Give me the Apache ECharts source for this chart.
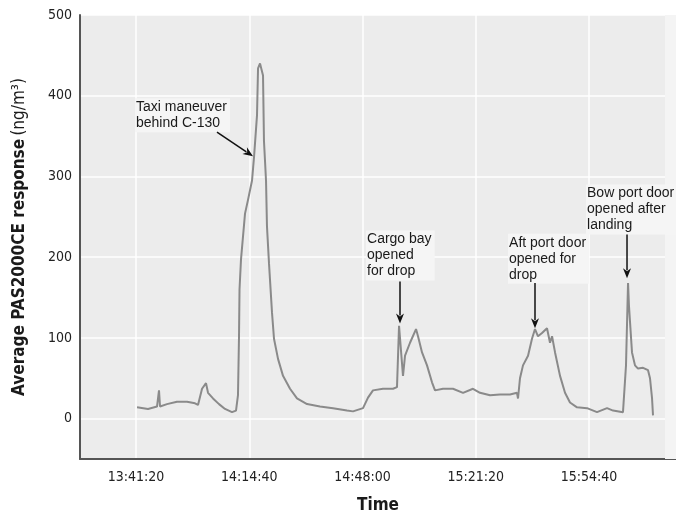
<!DOCTYPE html>
<html><head><meta charset="utf-8">
<script src="https://cdn.jsdelivr.net/npm/echarts@6/dist/echarts.min.js"></script>
<style>html,body{margin:0;padding:0;background:#fff}#c{width:676px;height:519px}</style>
</head><body><div id="c"></div>
<script>
// ---- data ----
const times = ['13:41:38','13:44:52','13:47:31','13:48:06','13:48:24','13:50:27','13:53:24','13:56:21','13:58:42','13:59:35',
'14:00:46','14:01:56','14:02:32','14:04:00','14:05:46','14:07:32','14:09:35','14:10:46','14:11:21','14:11:39',
'14:11:48','14:12:14','14:13:25','14:14:18','14:15:29','14:16:04','14:16:57','14:17:15','14:17:50','14:18:43',
'14:19:00','14:19:36','14:19:53','14:20:29','14:21:22','14:21:57','14:23:08','14:24:36','14:26:40','14:28:43',
'14:31:40','14:35:29','14:39:19','14:43:26','14:45:12','14:48:09','14:49:37','14:51:05','14:54:02','14:56:59',
'14:58:09','14:58:45','14:59:20','14:59:55','15:00:31','15:01:59','15:03:45','15:04:20','15:05:31','15:06:59',
'15:08:27','15:09:20','15:11:41','15:14:38','15:17:35','15:20:31','15:22:35','15:25:32','15:28:28','15:31:25',
'15:33:28','15:33:46','15:34:21','15:35:14','15:36:43','15:37:53','15:38:46','15:39:39','15:40:50','15:42:18',
'15:43:11','15:43:47','15:44:40','15:46:08','15:47:36','15:49:04','15:51:08','15:54:05','15:57:01','15:59:58',
'16:01:44','16:04:40','16:05:33','16:06:09','16:06:26','16:07:19','16:08:12','16:09:05','16:10:34','16:12:02',
'16:12:37','16:13:13','16:13:30'];
const values = [14,12,15,35,15,18,21,21,19,17,
37,44,32,25,18,12,8,10,29,102,
160,197,254,271,295,324,376,434,440,425,
344,295,238,192,131,99,74,53,37,25,
18,15,13,10,9,13,26,35,37,37,
39,115,115,53,78,94,111,102,82,66,
45,35,37,37,32,37,32,29,30,30,
32,25,50,66,78,99,111,102,106,112,
94,102,82,53,32,20,14,13,8,13,
10,8,66,168,139,82,66,62,63,60,
50,25,4];
const xTickLabels = ['13:41:20','14:14:40','14:48:00','15:21:20','15:54:40'];
const yTickLabels = [0,100,200,300,400,500];
const xRange = ['13:24:51','16:20:16'];
const yRange = [-50, 500];
const fadedSpan = ['16:17:02','16:20:16'];
const annotationTexts = ['Taxi maneuver\nbehind C-130','Cargo bay\nopened\nfor drop','Aft port door\nopened for\ndrop','Bow port door\nopened after\nlanding'];
const annotationBoxes = [['13:41:02',397],['14:49:02',233],['15:30:50',229],['15:53:47',290]];
const arrowFrom = [['14:05:10',355],['14:59:02',170],['15:38:46',168],['16:05:51',228]];
const arrowTo = [['14:15:46',325],['14:59:02',118],['15:38:46',112],['16:05:51',174]];

// ---- helpers ----
const toSec = s => { const p = s.split(':').map(Number); return p[0]*3600 + p[1]*60 + p[2]; };
const pad = n => String(n).padStart(2,'0');
const fmt = v => { v = Math.round(v); return pad(Math.floor(v/3600)) + ':' + pad(Math.floor(v/60)%60) + ':' + pad(v%60); };

const NARROW = "'Liberation Sans Narrow','Arial Narrow','DejaVu Sans Condensed',sans-serif";
const REG = "'Liberation Sans',Arial,Helvetica,sans-serif";
const xTicks = xTickLabels.map(toSec);
const seriesData = times.map((t,i) => [toSec(t), values[i]]);

const chart = echarts.init(document.getElementById('c'), null, {renderer:'canvas'});
chart.setOption({
  animation:false,
  backgroundColor:'#ffffff',
  grid:{left:80, right:0, top:15, bottom:56, show:true, backgroundColor:'#ececec', borderWidth:0},
  xAxis:{
    type:'value', min:toSec(xRange[0]), max:toSec(xRange[1]),
    name:'Time', nameLocation:'middle', nameGap:38,
    nameTextStyle:{fontFamily:NARROW, fontWeight:'bold', fontSize:17, color:'#1a1a1a'},
    axisLine:{show:true, onZero:false, lineStyle:{color:'#555', width:2}},
    axisTick:{show:false, customValues:xTicks},
    axisLabel:{customValues:xTicks, formatter:fmt, fontFamily:NARROW, fontSize:14, color:'#222', margin:11},
    splitLine:{show:true, lineStyle:{color:'#ffffff', width:1.5}}
  },
  yAxis:{
    type:'value', min:yRange[0], max:yRange[1],
    name:'{b|Average PAS2000CE response} {n|(ng/m³)}', nameLocation:'middle', nameGap:52,
    nameTextStyle:{rich:{
      b:{fontFamily:NARROW, fontWeight:'bold', fontSize:17, color:'#1a1a1a'},
      n:{fontFamily:NARROW, fontSize:17, color:'#1a1a1a'}}},
    axisLine:{show:true, lineStyle:{color:'#555', width:2}},
    axisTick:{show:false, customValues:yTickLabels},
    axisLabel:{customValues:yTickLabels, fontFamily:NARROW, fontSize:14, color:'#222', margin:8},
    splitLine:{show:true, lineStyle:{color:'#ffffff', width:1.5}}
  },
  series:[{
    type:'line', data:seriesData, showSymbol:false, symbol:'none',
    lineStyle:{color:'#8a8a8a', width:2}, z:3,
    markArea:{silent:true, itemStyle:{color:'#f4f4f4'}, data:[[{xAxis:toSec(fadedSpan[0])},{xAxis:toSec(fadedSpan[1])}]]}
  }]
});

// annotations positioned from data coordinates
const toPx = p => chart.convertToPixel({gridIndex:0}, [toSec(p[0]), p[1]]);
const g = [];
annotationTexts.forEach((txt, i) => {
  const b = toPx(annotationBoxes[i]);
  g.push({type:'text', x:b[0], y:b[1], z:10, style:{text:txt, font:'14px ' + REG, fill:'#1a1a1a',
    align:'left', verticalAlign:'top', backgroundColor:'#f5f5f5', padding:[1,3,1,1], lineHeight:16}});
  const f = toPx(arrowFrom[i]), t = toPx(arrowTo[i]);
  const dx = t[0]-f[0], dy = t[1]-f[1], L = Math.hypot(dx,dy), ux = dx/L, uy = dy/L;
  const hl = 10, hw = 4;
  const bx = t[0]-ux*hl, by = t[1]-uy*hl;
  g.push({type:'line', z:10, shape:{x1:f[0], y1:f[1], x2:bx+ux*2, y2:by+uy*2}, style:{stroke:'#111', lineWidth:1.5}});
  g.push({type:'polygon', z:10, shape:{points:[[t[0],t[1]],[bx-uy*hw, by+ux*hw],[bx+ux*3, by+uy*3],[bx+uy*hw, by-ux*hw]]}, style:{fill:'#111'}});
});
chart.setOption({graphic:g});
</script></body></html>
